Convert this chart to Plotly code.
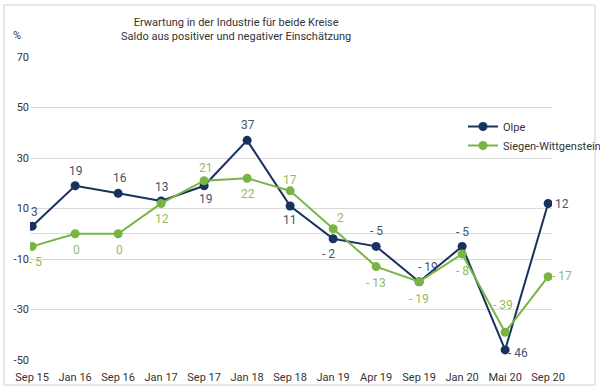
import plotly.graph_objects as go

categories = ["Sep 15", "Jan 16", "Sep 16", "Jan 17", "Sep 17", "Jan 18", "Sep 18",
              "Jan 19", "Apr 19", "Sep 19", "Jan 20", "Mai 20", "Sep 20"]
olpe = [3, 19, 16, 13, 19, 37, 11, -2, -5, -19, -5, -46, 12]
siegen = [-5, 0, 0, 12, 21, 22, 17, 2, -13, -19, -8, -39, -17]
y_ticks = [70, 50, 30, 10, -10, -30, -50]

# label offsets in pixels (dx, dy) - style only
olpe_off = [(2, 14), (1, 15), (2, 15), (1, 14), (2, -13), (1, 15), (0, -14),
            (-5, -15), (0, 15), (9, 15), (0, 14), (13, -3), (14, -1)]
siegen_off = [(3, -16), (1, -16), (1, -16), (1, -16), (2, 13), (1, -16), (0, 11),
              (7, 11), (0, -16), (0, -17), (0, -17), (-2, 27), (14, 1)]

NAVY = "#17325f"
GREEN = "#78b443"
NAVY_TXT = "#45536b"
GREEN_TXT = "#8ebd5f"
FONT = "Roboto, Liberation Sans, sans-serif"

def fmt(v):
    return f"- {abs(v)}" if v < 0 else str(v)

fig = go.Figure()
fig.add_trace(go.Scatter(x=categories, y=olpe, name="Olpe", mode="lines+markers",
                         line=dict(color=NAVY, width=2), marker=dict(size=9, color=NAVY)))
fig.add_trace(go.Scatter(x=categories, y=siegen, name="Siegen-Wittgenstein", mode="lines+markers",
                         line=dict(color=GREEN, width=2), marker=dict(size=9, color=GREEN)))

ann = []
for vals, offs, col in ((olpe, olpe_off, NAVY_TXT), (siegen, siegen_off, GREEN_TXT)):
    for c, v, (dx, dy) in zip(categories, vals, offs):
        ann.append(dict(x=c, y=v, text=fmt(v), showarrow=False, xshift=dx, yshift=dy,
                        font=dict(size=12, color=col, family=FONT)))

ann.append(dict(xref="paper", yref="paper", x=(236 - 30) / 522, y=1 + (57 - 29.5) / 303,
                text="Erwartung in der Industrie für beide Kreise<br>Saldo aus positiver und negativer Einschätzung",
                showarrow=False, xanchor="center", yanchor="middle",
                font=dict(size=11, color="#333333", family=FONT)))
ann.append(dict(xref="paper", yref="paper", x=(17 - 30) / 522, y=1 + (57 - 35) / 303,
                text="%", showarrow=False, xanchor="center", yanchor="middle",
                font=dict(size=11, color="#333333", family=FONT)))

fig.update_layout(
    width=600, height=389,
    margin=dict(l=30, r=48, t=57, b=29, autoexpand=False),
    paper_bgcolor="white", plot_bgcolor="white",
    showlegend=True,
    legend=dict(x=(463 - 30) / 522, y=(360 - 112) / 303, xanchor="left", yanchor="top",
                bgcolor="rgba(0,0,0,0)", font=dict(size=11, color="#333333", family=FONT),
                tracegroupgap=0, itemwidth=30),
    annotations=ann,
    shapes=[dict(type="rect", xref="paper", yref="paper",
                 x0=(4 - 30) / 522, x1=(595 - 30) / 522,
                 y0=(360 - 385) / 303, y1=1 + (57 - 5) / 303,
                 line=dict(color="#d0d0d0", width=1), layer="below")],
)
fig.update_xaxes(type="category", range=[-0.05, 12.09], showgrid=False, showline=False,
                 ticks="outside", ticklen=7, tickcolor="rgba(0,0,0,0)",
                 tickfont=dict(size=11, color="#333333", family=FONT))
fig.update_yaxes(range=[-50, 70], tickvals=y_ticks + [0], ticktext=[str(t) for t in y_ticks] + [""],
                 showgrid=True, gridcolor="#dadada", gridwidth=1, zeroline=False,
                 ticks="", tickfont=dict(size=11, color="#333333", family=FONT))

fig.write_html("out.html", post_script="document.body.style.margin='0';",
               config={"displayModeBar": False})
